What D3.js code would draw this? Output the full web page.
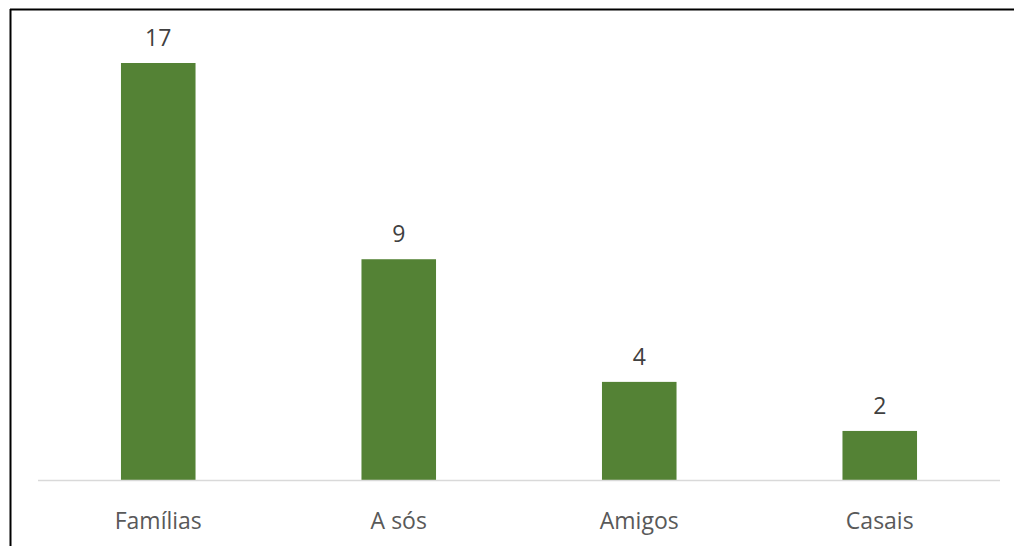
<!DOCTYPE html>
<html>
<head>
<meta charset="utf-8">
<script src="https://cdn.jsdelivr.net/npm/d3@7"></script>
<style>
  html, body { margin: 0; padding: 0; background: #fff; }
  svg { display: block; }
</style>
</head>
<body>
<svg id="chart" width="1014" height="546"></svg>
<script>
const categories = ["Famílias", "A sós", "Amigos", "Casais"];
const values = [17, 9, 4, 2];

const width = 1014, height = 546;
const svg = d3.select("#chart");

// frame (cropped screenshot: only top and left edges show)
svg.append("line").attr("x1", 10).attr("x2", width).attr("y1", 9.5).attr("y2", 9.5)
  .attr("stroke", "#000").attr("stroke-width", 2);
svg.append("line").attr("x1", 10.5).attr("x2", 10.5).attr("y1", 9).attr("y2", height)
  .attr("stroke", "#000").attr("stroke-width", 2);

const x = d3.scaleBand().domain(categories).range([38, 1000]).paddingInner(0.69).paddingOuter(0.345);
const y = d3.scaleLinear().domain([0, 17]).range([480, 63]);

svg.append("g").selectAll("rect").data(values).join("rect")
  .attr("x", (d, i) => x(categories[i]))
  .attr("y", d => y(d))
  .attr("width", x.bandwidth())
  .attr("height", d => y(0) - y(d))
  .attr("fill", "#548235");

svg.append("line").attr("x1", 38).attr("x2", 1000).attr("y1", y(0) + 0.5).attr("y2", y(0) + 0.5)
  .attr("stroke", "#d9d9d9").attr("stroke-width", 1.5);

svg.append("g").selectAll("text").data(values).join("text")
  .attr("x", (d, i) => x(categories[i]) + x.bandwidth() / 2)
  .attr("y", d => y(d) - 17)
  .attr("text-anchor", "middle")
  .attr("font-family", "Open Sans, sans-serif")
  .attr("font-size", 23)
  .attr("fill", "#404040")
  .text(d => d);

svg.append("g").selectAll("text").data(categories).join("text")
  .attr("x", d => x(d) + x.bandwidth() / 2)
  .attr("y", 529)
  .attr("text-anchor", "middle")
  .attr("font-family", "Open Sans, sans-serif")
  .attr("font-size", 23)
  .attr("fill", "#595959")
  .text(d => d);
</script>
</body>
</html>
